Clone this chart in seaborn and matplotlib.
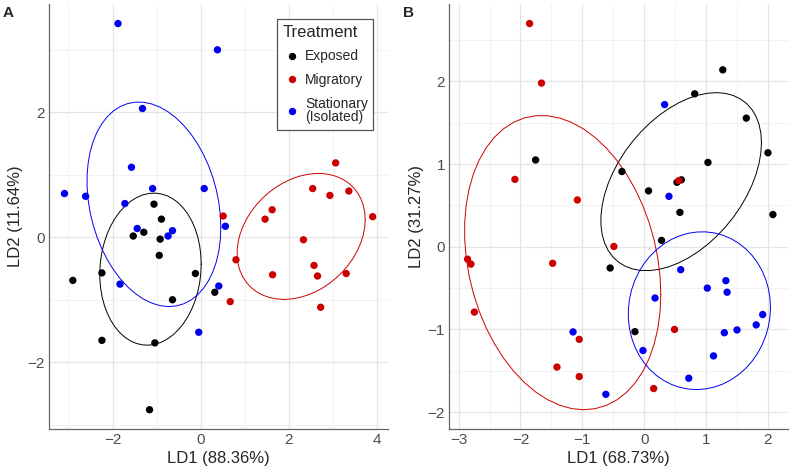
# LDA scatter plots with t-ellipses (two panels)

import numpy as np
import pandas as pd
import seaborn as sns
import matplotlib.pyplot as plt
from matplotlib.ticker import MultipleLocator

# Panel A data (LD1, LD2)
a_exp_x = [-1.06, -0.89, -1.29, -1.53, -0.92, -0.94, -2.24, -2.90, -0.12, 0.32, -0.64, -2.24, -1.04, -1.16]
a_exp_y = [0.53, 0.29, 0.08, 0.02, -0.03, -0.29, -0.57, -0.69, -0.58, -0.88, -1.00, -1.65, -1.69, -2.76]
a_mig_x = [3.06, 2.54, 3.36, 2.93, 1.62, 1.46, 3.90, 0.51, 2.33, 0.80, 2.57, 1.63, 2.65, 3.30, 0.67, 2.72]
a_mig_y = [1.19, 0.78, 0.74, 0.67, 0.44, 0.29, 0.33, 0.34, -0.04, -0.36, -0.45, -0.60, -0.62, -0.58, -1.03, -1.12]
a_sta_x = [-1.875, 0.38, -1.32, -1.57, -3.09, -2.61, -1.09, 0.08, -1.72, 0.56, -1.44, -0.64, -0.74, -1.83, 0.41, -0.045]
a_sta_y = [3.42, 3.00, 2.06, 1.12, 0.70, 0.656, 0.78, 0.78, 0.54, 0.176, 0.14, 0.106, 0.02, -0.75, -0.78, -1.52]

# Panel B data (LD1, LD2)
b_exp_x = [1.27, 0.816, 1.65, 2.00, -1.755, 1.03, -0.36, 0.60, 0.53, 0.07, 0.577, 2.08, 0.28, -0.55, -0.15]
b_exp_y = [2.14, 1.85, 1.556, 1.137, 1.05, 1.02, 0.91, 0.81, 0.78, 0.676, 0.416, 0.39, 0.077, -0.257, -1.027]
b_mig_x = [-1.853, -1.66, -2.09, -1.08, 0.56, -0.49, -2.855, -2.80, -1.48, -2.745, 0.49, -1.05, -1.41, -1.05, 0.153]
b_mig_y = [2.70, 1.98, 0.815, 0.566, 0.80, 0.004, -0.15, -0.21, -0.20, -0.79, -1.00, -1.12, -1.455, -1.57, -1.715]
b_sta_x = [0.33, 0.40, 0.59, 1.32, 1.02, 1.34, 0.175, 1.915, 1.81, 1.50, 1.295, -1.15, -0.02, 1.12, 0.72, -0.62]
b_sta_y = [1.72, 0.61, -0.277, -0.41, -0.50, -0.55, -0.62, -0.82, -0.945, -1.006, -1.04, -1.03, -1.255, -1.32, -1.59, -1.785]

groups = ["Exposed", "Migratory", "Stationary\n(Isolated)"]
colors = {"Exposed": "black", "Migratory": "#CD0000", "Stationary\n(Isolated)": "#0000F0"}


def make_df(xs, ys):
    rows = []
    for g, x, y in zip(groups, xs, ys):
        for a, b in zip(x, y):
            rows.append((g, a, b))
    return pd.DataFrame(rows, columns=["Treatment", "LD1", "LD2"])


df_a = make_df([a_exp_x, a_mig_x, a_sta_x], [a_exp_y, a_mig_y, a_sta_y])
df_b = make_df([b_exp_x, b_mig_x, b_sta_x], [b_exp_y, b_mig_y, b_sta_y])


# robust t covariance like MASS::cov.trob
def cov_trob(xy, nu=5, maxit=25, tol=0.01):
    n, p = xy.shape
    wt = np.ones(n)
    loc = xy.mean(axis=0)
    w = np.sqrt(wt)
    for _ in range(maxit):
        w0 = w
        X = xy - loc
        _, s, vt = np.linalg.svd(np.sqrt(w / w.sum())[:, None] * X, full_matrices=False)
        wX = X @ vt.T @ np.diag(1 / s)
        Q = (wX ** 2).sum(axis=1)
        w = wt * (nu + p) / (nu + Q)
        loc = (w[:, None] * xy).sum(axis=0) / w.sum()
        if np.all(np.abs(w - w0) < tol):
            break
    sx = np.sqrt(w)[:, None] * X
    return loc, sx.T @ sx / wt.sum()


# ellipse as in ggplot2 stat_ellipse (type = "t"), level 0.68
def ellipse(xy, level=0.68, segments=51):
    center, shape = cov_trob(xy)
    d = len(xy) - 1
    qf = (d / 2) * ((1 - level) ** (-2 / d) - 1)
    radius = np.sqrt(2 * qf)
    ang = np.linspace(0, 2 * np.pi, segments + 1)
    circle = np.column_stack([np.cos(ang), np.sin(ang)])
    L = np.linalg.cholesky(shape)
    return center + radius * circle @ L.T


sns.set_theme(style="whitegrid")
plt.rcParams['font.family'] = ['Liberation Sans', 'DejaVu Sans']

fig = plt.figure(figsize=(7.91, 4.72), dpi=100)
ax_a = fig.add_axes([0.062, 0.091, 0.4286, 0.900])
ax_b = fig.add_axes([0.568, 0.091, 0.4286, 0.900])

for ax, df, xlab, ylab, letter, xstep, ystep in [
        (ax_a, df_a, "LD1 (88.36%)", "LD2 (11.64%)", "A", 2, 2),
        (ax_b, df_b, "LD1 (68.73%)", "LD2 (31.27%)", "B", 1, 1)]:
    for g in groups:
        sub = df[df["Treatment"] == g][["LD1", "LD2"]].to_numpy()
        e = ellipse(sub)
        ax.plot(e[:, 0], e[:, 1], color=colors[g], lw=0.7, zorder=2)
    sns.scatterplot(data=df, x="LD1", y="LD2", hue="Treatment", hue_order=groups,
                    palette=colors, s=28, edgecolor="none", linewidth=0,
                    ax=ax, zorder=3, legend=(letter == "A"))
    ax.margins(0.05)
    ax.xaxis.set_major_locator(MultipleLocator(xstep))
    ax.yaxis.set_major_locator(MultipleLocator(ystep))
    ax.xaxis.set_minor_locator(MultipleLocator(xstep / 2))
    ax.yaxis.set_minor_locator(MultipleLocator(ystep / 2))
    ax.grid(which="major", color="#E5E5E5", lw=0.9)
    ax.grid(which="minor", color="#F0F0F0", lw=0.6)
    ax.set_facecolor("white")
    for side in ["top", "right"]:
        ax.spines[side].set_visible(False)
    for side in ["left", "bottom"]:
        ax.spines[side].set_color("#666666")
        ax.spines[side].set_linewidth(0.9)
    ax.tick_params(axis="both", which="both", length=0, labelsize=11, labelcolor="#4D4D4D", pad=3)
    ax.set_xlabel(xlab, fontsize=12, labelpad=3)
    ax.set_ylabel(ylab, fontsize=12, labelpad=3)
    ax.text(-0.137, 0.995, letter, transform=ax.transAxes, fontsize=11,
            fontweight="bold", ha="left", va="top")

leg = ax_a.legend(title="Treatment", loc="upper right", bbox_to_anchor=(0.957, 0.965),
                  borderaxespad=0, fancybox=False, framealpha=1, edgecolor="#555555",
                  fontsize=10, title_fontsize=12, markerscale=1.0,
                  handlelength=1.4, handletextpad=0.25, labelspacing=0.7, borderpad=0.4)
leg.get_frame().set_linewidth(0.9)
leg._legend_box.align = "left"
for t in leg.get_texts():
    t.set_linespacing(0.95)

fig.savefig("out.png", dpi=100)
